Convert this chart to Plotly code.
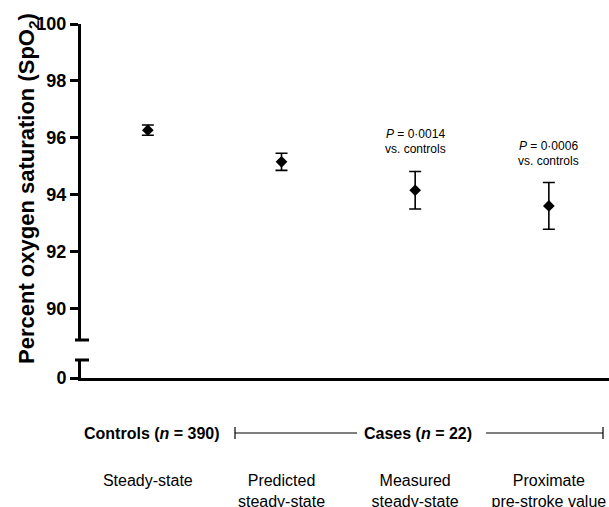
import plotly.graph_objects as go

# ---- data ----
categories = ["Steady-state", "Predicted<br>steady-state", "Measured<br>steady-state", "Proximate<br>pre-stroke value"]
x_index = [0, 1, 2, 3]
means = [96.27, 95.16, 94.16, 93.61]
errors = [0.18, 0.30, 0.66, 0.82]
p_values = ["", "", "0·0014", "0·0006"]
y_ticks = [90, 92, 94, 96, 98, 100]
group_labels = ["Controls (<i>n</i> = 390)", "Cases (<i>n</i> = 22)"]

FONT = "Arial, Liberation Sans, sans-serif"

fig = go.Figure()
fig.add_trace(go.Scatter(
    x=x_index, y=means, mode="markers",
    marker=dict(symbol="diamond", size=9, color="black"),
    error_y=dict(type="data", array=errors, visible=True, color="black", thickness=1.6, width=6),
    xaxis="x", yaxis="y", showlegend=False, cliponaxis=False, hoverinfo="skip",
))
# empty trace so the lower (broken) axis segment is drawn
fig.add_trace(go.Scatter(x=[None], y=[None], xaxis="x", yaxis="y2",
                         mode="markers", showlegend=False, hoverinfo="skip"))

L, T, W, H = 81, 24, 528, 354  # plot area in pixels

def py(px):  # pixel y -> paper y
    return (T + H - px) / H

def pxp(px):  # pixel x -> paper x
    return (px - L) / W

fig.update_layout(
    width=609, height=507,
    margin=dict(l=L, r=609 - L - W, t=T, b=507 - T - H, pad=0, autoexpand=False),
    paper_bgcolor="white", plot_bgcolor="white",
    font=dict(family=FONT, color="black"),
    xaxis=dict(
        domain=[0, 1], anchor="y2", range=[-0.5, 3.45], automargin=False,
        tickvals=x_index, ticktext=categories,
        showline=True, linewidth=3, linecolor="black",
        ticks="", showgrid=False, zeroline=False,
        tickfont=dict(size=16, family=FONT),
        ticklabelstandoff=86,
    ),
    yaxis=dict(
        domain=[py(340), 1], anchor="x", range=[88.9, 100], automargin=False,
        tickvals=y_ticks, ticktext=[str(v) for v in y_ticks],
        showline=True, linewidth=3, linecolor="black",
        ticks="outside", ticklen=8, tickwidth=3, tickcolor="black",
        showgrid=False, zeroline=False,
        tickfont=dict(size=18, family=FONT, weight="bold"),
    ),
    yaxis2=dict(
        domain=[0, py(360)], anchor="x", range=[0, 1], automargin=False,
        tickvals=[0], ticktext=["0"],
        showline=True, linewidth=3, linecolor="black",
        ticks="outside", ticklen=8, tickwidth=3, tickcolor="black",
        showgrid=False, zeroline=False,
        tickfont=dict(size=18, family=FONT, weight="bold"),
    ),
)

# axis break caps
for ycap in (340, 360):
    fig.add_shape(type="line", xref="paper", yref="paper",
                  x0=pxp(75), x1=pxp(89), y0=py(ycap), y1=py(ycap),
                  line=dict(color="black", width=3))

# y-axis title
fig.add_annotation(text="<b>Percent oxygen saturation (SpO<sub>2</sub>)</b>",
                   xref="paper", yref="paper", x=pxp(28), y=py(189),
                   textangle=-90, showarrow=False, xanchor="center", yanchor="middle",
                   font=dict(size=22, family=FONT))

# P-value annotations
for xi, m, e, p in zip(x_index, means, errors, p_values):
    if p:
        fig.add_annotation(text=f"<i>P</i> = {p}", x=xi, y=m + e, xref="x", yref="y",
                           yshift=37, yanchor="middle", showarrow=False,
                           font=dict(size=12, family=FONT))
        fig.add_annotation(text="vs. controls", x=xi, y=m + e, xref="x", yref="y",
                           yshift=22, yanchor="middle", showarrow=False,
                           font=dict(size=12, family=FONT))

# group labels and bracket
gy = py(433)
fig.add_annotation(text=f"<b>{group_labels[0]}</b>", x=0, y=gy, xref="x", yref="paper",
                   xshift=4, yanchor="middle", showarrow=False, font=dict(size=16, family=FONT))
fig.add_annotation(text=f"<b>{group_labels[1]}</b>", x=2, y=gy, xref="x", yref="paper",
                   xshift=3, yanchor="middle", showarrow=False, font=dict(size=16, family=FONT))
for xa, xb in ((235, 357), (486, 603)):
    fig.add_shape(type="line", xref="paper", yref="paper", x0=pxp(xa), x1=pxp(xb), y0=gy, y1=gy,
                  line=dict(color="black", width=1.2))
for xc in (235, 603):
    fig.add_shape(type="line", xref="paper", yref="paper", x0=pxp(xc), x1=pxp(xc),
                  y0=gy - 6 / H, y1=gy + 6 / H, line=dict(color="black", width=1.2))

fig.write_html("out.html", config={"displayModeBar": False},
               post_script="document.body.style.margin='0px';")
